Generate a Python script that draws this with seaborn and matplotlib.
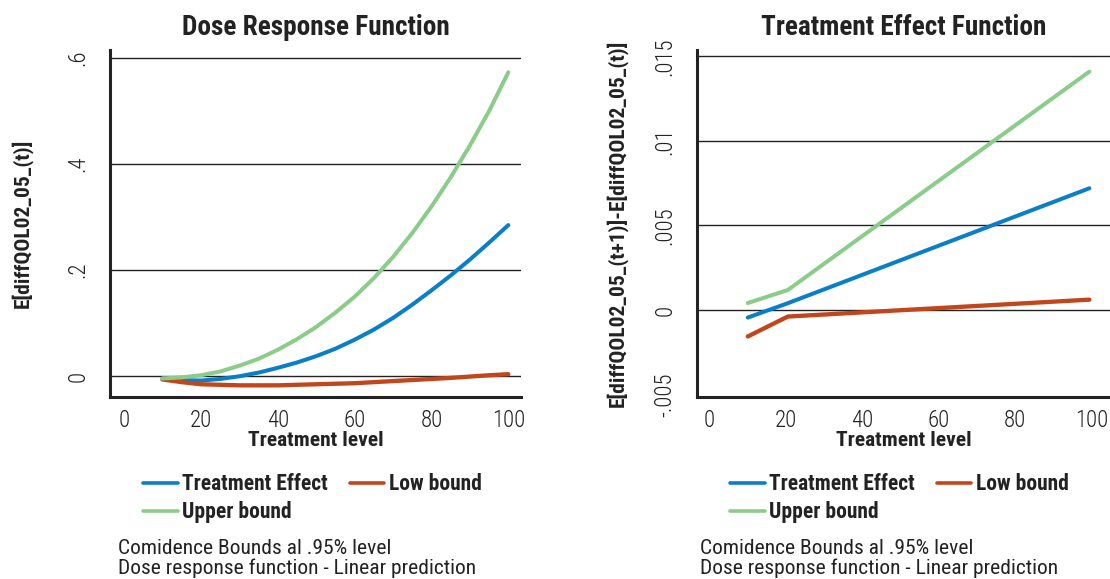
import numpy as np
import pandas as pd
import matplotlib
matplotlib.use("Agg")
import matplotlib.pyplot as plt
import matplotlib.font_manager as fm
from matplotlib.lines import Line2D
import seaborn as sns

# ---------------- data ----------------
dose_t = [10, 15, 20, 25, 30, 35, 40, 45, 50, 55, 60, 65, 70, 75, 80, 85, 90, 95, 100]
dose_effect = [-0.004, -0.007, -0.008, -0.005, 0.000, 0.007, 0.016, 0.026, 0.038, 0.052,
               0.069, 0.088, 0.110, 0.135, 0.162, 0.190, 0.220, 0.252, 0.285]
dose_low = [-0.006, -0.011, -0.015, -0.016, -0.017, -0.017, -0.017, -0.016, -0.015, -0.014,
            -0.013, -0.011, -0.009, -0.007, -0.005, -0.003, -0.0005, 0.002, 0.004]
dose_up = [-0.004, -0.002, 0.002, 0.009, 0.020, 0.033, 0.050, 0.070, 0.093, 0.120,
           0.150, 0.185, 0.225, 0.270, 0.320, 0.375, 0.435, 0.500, 0.573]

te_t = [10, 20.5, 99.5]
te_effect = [-0.00045, 0.00040, 0.0072]
te_low = [-0.00157, -0.00039, 0.00061]
te_up = [0.00041, 0.00118, 0.0141]

series_names = ["Treatment Effect", "Low bound", "Upper bound"]
colors = {"Treatment Effect": "#0a7ec6", "Low bound": "#c2461c", "Upper bound": "#8ccc8a"}

left_yticks = [0, 0.2, 0.4, 0.6]
left_yticklabels = ["0", ".2", ".4", ".6"]
right_yticks = [-0.005, 0, 0.005, 0.01, 0.015]
right_yticklabels = ["-.005", "0", ".005", ".01", ".015"]
xticks = [0, 20, 40, 60, 80, 100]

note1 = "Comidence Bounds al .95% level"
note2 = "Dose response function - Linear prediction"

# ---------------- style ----------------
sns.set_theme(style="white")

# pick a narrow / condensed sans family if one is installed
names = {f.name for f in fm.fontManager.ttflist}
chosen = None
stretch = "normal"
for cand in ["Roboto Condensed", "Liberation Sans Narrow", "Arial Narrow", "Nimbus Sans Narrow",
             "Open Sans Condensed", "Noto Sans Condensed", "DejaVu Sans Condensed"]:
    if cand in names:
        chosen = cand
        break
if chosen is None:
    for f in fm.fontManager.ttflist:
        fn = f.fname.lower()
        if ("condensed" in fn or "narrow" in fn) and "mono" not in fn and "serif" not in fn.replace("sans", ""):
            chosen = f.name
            if f.stretch not in ("normal", 500):
                stretch = "condensed"
            break
if chosen is None:
    chosen = "Liberation Sans"
FAM = [chosen, "Liberation Sans", "DejaVu Sans"]
plt.rcParams["font.family"] = FAM
plt.rcParams["font.stretch"] = stretch

INK = "#222222"


def long_df(t, eff, low, up):
    return pd.DataFrame({
        "t": list(t) * 3,
        "value": list(eff) + list(low) + list(up),
        "series": [series_names[0]] * len(t) + [series_names[1]] * len(t) + [series_names[2]] * len(t),
    })


W, H = 1110, 579
fig = plt.figure(figsize=(W / 100, H / 100), dpi=100)


def px_axes(x0, x1, ytop, ybot):
    return fig.add_axes([x0 / W, (H - ybot) / H, (x1 - x0) / W, (ybot - ytop) / H])


axL = px_axes(110, 521, 50, 397)
axR = px_axes(697, 1110, 50, 397)


def style_axis(ax, df, title, ylabel, yticks, yticklabels, xlim, ylim, ylab_x, note_x, leg_x):
    sns.lineplot(data=df, x="t", y="value", hue="series", hue_order=series_names,
                 palette=colors, ax=ax, legend=False, sort=False, estimator=None)
    for line, s in zip(ax.lines, series_names):
        line.set_linewidth(2.9 if s != "Low bound" else 3.1)
        line.set_solid_capstyle("round")
    ax.set_xlim(*xlim)
    ax.set_ylim(*ylim)
    ax.set_xticks(xticks)
    ax.set_xticklabels([str(v) for v in xticks])
    ax.set_yticks(yticks)
    ax.set_yticklabels(yticklabels, rotation=90, va="center")
    lo = ylim[0]
    span = ylim[1] - ylim[0]
    for y in yticks:
        if (y - lo) / span > 0.03:  # gridline at the very bottom coincides with the axis
            ax.axhline(y, color=INK, lw=1.0, zorder=0)
    for sp in ["top", "right"]:
        ax.spines[sp].set_visible(False)
    for sp in ["left", "bottom"]:
        ax.spines[sp].set_color(INK)
        ax.spines[sp].set_linewidth(2.2)
    ax.tick_params(axis="both", which="major", direction="out", length=6.5, width=1.6,
                   color=INK, labelsize=15.5, labelcolor=INK)
    ax.tick_params(axis="y", pad=8)
    ax.tick_params(axis="x", pad=2)
    for lab in ax.get_xticklabels() + ax.get_yticklabels():
        lab.set_fontweight("light")
    tl = ax.set_title(title, fontsize=17.5, fontweight="bold", color=INK, y=1.065, va="center", pad=0)
    xl = ax.set_xlabel("Treatment level", fontsize=13.5, fontweight="bold", color=INK, va="center")
    ax.xaxis.set_label_coords(0.5, -0.125)
    yl = ax.set_ylabel(ylabel, fontsize=13.5, fontweight="bold", color=INK, va="center")
    ax.yaxis.set_label_coords(ylab_x, 0.5)
    ax.set_facecolor("white")
    hs = [Line2D([0], [0], color=colors[s], lw=2.6) for s in series_names]
    order = [0, 2, 1]
    leg = ax.legend([hs[i] for i in order], [series_names[i] for i in order], ncol=2,
                    loc="upper left", bbox_to_anchor=(leg_x / W, (H - 473) / H),
                    bbox_transform=fig.transFigure, frameon=False, borderaxespad=0,
                    borderpad=0, handlelength=1.85, handletextpad=0.25,
                    columnspacing=1.15, labelspacing=0.32,
                    prop={"weight": "bold", "size": 13.5})
    for t in leg.get_texts():
        t.set_color(INK)
    n1 = fig.text(note_x / W, (H - 548) / H, note1, fontsize=13.5, color=INK, va="center", ha="left")
    n2 = fig.text(note_x / W, (H - 568) / H, note2, fontsize=13.5, color=INK, va="center", ha="left")
    return dict(title=tl, xlabel=xl, ylabel=yl, leg=leg, notes=(n1, n2))


dL = style_axis(axL, long_df(dose_t, dose_effect, dose_low, dose_up), "Dose Response Function",
                "E[diffQOL02_05_(t)]", left_yticks, left_yticklabels,
                (-3.67, 103.3), (-0.039, 0.615), -0.214, 118, 143)
dR = style_axis(axR, long_df(te_t, te_effect, te_low, te_up), "Treatment Effect Function",
                "E[diffQOL02_05_(t+1)]-E[diffQOL02_05_(t)]", right_yticks, right_yticklabels,
                (-3.3, 104.9), (-0.00515, 0.01538), -0.194, 700, 730)

# --- scale text sizes so that widths match the reference ---
fig.canvas.draw()
r = fig.canvas.get_renderer()


def width(t, rotated=False):
    bb = t.get_window_extent(r)
    return bb.height if rotated else bb.width


def fit_group(ref_text, target, texts, rotated=False):
    w = width(ref_text, rotated)
    s = ref_text.get_fontsize() * target / w
    for t in texts:
        t.set_fontsize(s)
    return s


fit_group(dL["title"], 268, [dL["title"], dR["title"]])
fit_group(dL["xlabel"], 135, [dL["xlabel"], dR["xlabel"]])
fit_group(dR["ylabel"], 367, [dL["ylabel"], dR["ylabel"]], rotated=True)
legL = dL["leg"].get_texts()
legR = dR["leg"].get_texts()
fit_group(legL[0], 146, list(legL) + list(legR))
fit_group(dL["notes"][1], 358, list(dL["notes"]) + list(dR["notes"]))
xtl = axL.get_xticklabels()
s = fit_group(xtl[-1], 33, xtl)
for ax in (axL, axR):
    ax.tick_params(axis="both", labelsize=s)

fig.savefig("out.png", dpi=100, facecolor="white")
